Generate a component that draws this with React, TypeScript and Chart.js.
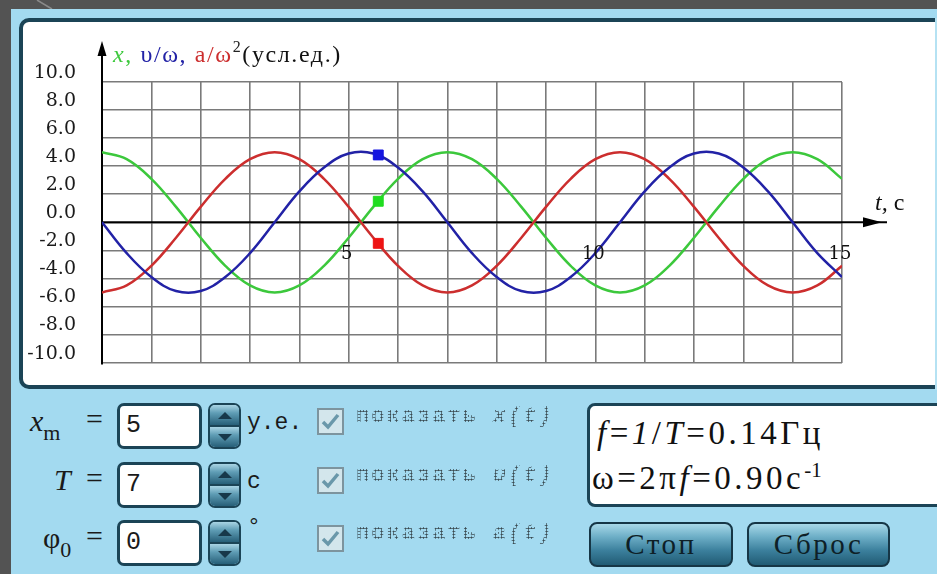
import { useEffect, useRef } from "react";
import { Chart, registerables } from "chart.js";

Chart.register(...registerables);

// Sample times, s
const timeValues = [
  0, 0.5, 1, 1.5, 2, 2.5, 3, 3.5, 4, 4.5, 5, 5.5, 6, 6.5, 7, 7.5,
  8, 8.5, 9, 9.5, 10, 10.5, 11, 11.5, 12, 12.5, 13, 13.5, 14, 14.5, 15,
];

// Displacement x(t), arbitrary units
const xValues = [
  5, 4.5, 3.1, 1.1, -1.1, -3.1, -4.5, -5, -4.5, -3.1, -1.1, 1.1, 3.1, 4.5, 5, 4.5,
  3.1, 1.1, -1.1, -3.1, -4.5, -5, -4.5, -3.1, -1.1, 1.1, 3.1, 4.5, 5, 4.5, 3.1,
];

// Velocity divided by omega
const vValues = [
  0, -2.2, -3.9, -4.9, -4.9, -3.9, -2.2, 0, 2.2, 3.9, 4.9, 4.9, 3.9, 2.2, 0, -2.2,
  -3.9, -4.9, -4.9, -3.9, -2.2, 0, 2.2, 3.9, 4.9, 4.9, 3.9, 2.2, 0, -2.2, -3.9,
];

// Acceleration divided by omega squared
const aValues = [
  -5, -4.5, -3.1, -1.1, 1.1, 3.1, 4.5, 5, 4.5, 3.1, 1.1, -1.1, -3.1, -4.5, -5, -4.5,
  -3.1, -1.1, 1.1, 3.1, 4.5, 5, 4.5, 3.1, 1.1, -1.1, -3.1, -4.5, -5, -4.5, -3.1,
];

// Current moment of the animation
const currentTime = 5.6;
const currentX = 1.5;
const currentV = 4.8;
const currentA = -1.5;

const xTickLabels = [5, 10, 15];

const GREEN = "#3cc83c";
const BLUE = "#2222a6";
const RED = "#cc2e2e";

const series = (vals: number[]) => timeValues.map((t, i) => ({ x: t, y: vals[i] }));

const decorPlugin = {
  id: "decor",
  beforeDatasetsDraw(chart: any) {
    const { ctx, chartArea: a, scales } = chart;
    const y0 = scales.y.getPixelForValue(0);
    ctx.save();
    ctx.strokeStyle = "#000";
    ctx.fillStyle = "#000";
    ctx.lineWidth = 2;
    // time axis with arrow
    ctx.beginPath();
    ctx.moveTo(a.left, y0);
    ctx.lineTo(a.right + 45, y0);
    ctx.stroke();
    ctx.beginPath();
    ctx.moveTo(a.right + 40, y0);
    ctx.lineTo(a.right + 21, y0 - 5);
    ctx.lineTo(a.right + 21, y0 + 5);
    ctx.closePath();
    ctx.fill();
    // value axis with arrow
    ctx.beginPath();
    ctx.moveTo(a.left, a.bottom + 2);
    ctx.lineTo(a.left, a.top - 38);
    ctx.stroke();
    ctx.beginPath();
    ctx.moveTo(a.left, a.top - 41);
    ctx.lineTo(a.left - 4.5, a.top - 26);
    ctx.lineTo(a.left + 4.5, a.top - 26);
    ctx.closePath();
    ctx.fill();
    ctx.restore();
  },
  afterDraw(chart: any) {
    const { ctx, chartArea: a, scales } = chart;
    const y0 = scales.y.getPixelForValue(0);
    ctx.save();
    ctx.fillStyle = "#111";
    ctx.textBaseline = "middle";
    ctx.textAlign = "center";
    ctx.font = "18px 'DejaVu Serif'";
    xTickLabels.forEach((v) => {
      ctx.fillText(String(v), scales.x.getPixelForValue(v) - 2, y0 + 32);
    });

    // axis name for time
    ctx.textAlign = "left";
    ctx.textBaseline = "alphabetic";
    ctx.font = "italic 24px 'Liberation Serif'";
    ctx.fillText("t,", a.right + 33, y0 - 12);
    const tw = ctx.measureText("t,").width;
    ctx.font = "24px 'Liberation Serif'";
    ctx.fillText(" c", a.right + 33 + tw, y0 - 12);

    // axis name for values, in colours of the curves
    ctx.letterSpacing = "1.6px";
    const parts = [
      { text: "x", color: GREEN, font: "italic 24px 'Liberation Serif'", dy: 0 },
      { text: ", ", color: GREEN, font: "24px 'Liberation Serif'", dy: 0 },
      { text: "υ/ω", color: BLUE, font: "24px 'Liberation Serif'", dy: 0 },
      { text: ", ", color: BLUE, font: "24px 'Liberation Serif'", dy: 0 },
      { text: "a/ω", color: RED, font: "24px 'Liberation Serif'", dy: 0 },
      { text: "2", color: "#222", font: "16px 'Liberation Serif'", dy: -10 },
      { text: "(усл.ед.)", color: "#111", font: "24px 'Liberation Serif'", dy: 0 },
    ];
    let px = a.left + 11;
    const base = a.top - 20;
    parts.forEach((p) => {
      ctx.font = p.font;
      ctx.fillStyle = p.color;
      ctx.fillText(p.text, px, base + p.dy);
      px += ctx.measureText(p.text).width;
    });
    ctx.restore();
  },
};

const boxBorder = "#1b4456";

function Spinner({ top }: { top: number }) {
  const half = {
    flex: 1,
    background: "linear-gradient(#a9d4e4 0%, #5f9db5 40%, #275f78 100%)",
    display: "flex",
    alignItems: "center",
    justifyContent: "center",
  } as const;
  return (
    <div
      style={{
        position: "absolute",
        left: 208,
        top,
        width: 33,
        height: 46,
        boxSizing: "border-box",
        border: `2px solid ${boxBorder}`,
        borderRadius: 7,
        overflow: "hidden",
        display: "flex",
        flexDirection: "column",
      }}
    >
      <div style={{ ...half, borderBottom: `2px solid ${boxBorder}` }}>
        <div style={{ width: 0, height: 0, borderLeft: "7px solid transparent", borderRight: "7px solid transparent", borderBottom: "7px solid #17384a" }} />
      </div>
      <div style={half}>
        <div style={{ width: 0, height: 0, borderLeft: "7px solid transparent", borderRight: "7px solid transparent", borderTop: "7px solid #17384a" }} />
      </div>
    </div>
  );
}

function Field({ top, value }: { top: number; value: string }) {
  return (
    <div
      style={{
        position: "absolute",
        left: 117,
        top,
        width: 85,
        height: 46,
        boxSizing: "border-box",
        border: `3px solid ${boxBorder}`,
        borderRadius: 7,
        background: "#fff",
        font: "25px 'Liberation Mono'",
        color: "#1a1a1a",
        lineHeight: "40px",
        paddingLeft: 6,
      }}
    >
      {value}
    </div>
  );
}

function CheckRow({ top, label }: { top: number; label: string }) {
  return (
    <>
      <div
        style={{
          position: "absolute",
          left: 317,
          top,
          width: 27,
          height: 27,
          boxSizing: "border-box",
          border: "2px solid #7d949e",
          background: "#d3e6ec",
        }}
      >
        <svg width="23" height="23" style={{ display: "block" }}>
          <path d="M4 12 L9 17 L19 5" stroke="#6a98aa" strokeWidth="3.5" fill="none" />
        </svg>
      </div>
      <div
        style={{
          position: "absolute",
          left: 356,
          top: top - 4,
          height: 34,
          lineHeight: "34px",
          font: "bold 22px 'Liberation Mono'",
          letterSpacing: 2,
          whiteSpace: "nowrap",
          backgroundImage: "radial-gradient(circle, #3a4b52 0.9px, transparent 1.3px)",
          backgroundSize: "3px 3px",
          WebkitBackgroundClip: "text",
          backgroundClip: "text",
          color: "transparent",
        }}
      >
        показать <i>{label}</i>
      </div>
    </>
  );
}

function Button({ left, width, text }: { left: number; width: number; text: string }) {
  return (
    <div
      style={{
        position: "absolute",
        left,
        top: 522,
        width,
        height: 45,
        boxSizing: "border-box",
        border: "2px solid #163646",
        borderRadius: 8,
        background: "linear-gradient(#a8d8e8 0%, #6fb0c8 30%, #3b7f9c 65%, #215b74 100%)",
        textAlign: "center",
        font: "29px 'Liberation Serif'",
        letterSpacing: 2.5,
        lineHeight: "40px",
        color: "#0e1f27",
      }}
    >
      {text}
    </div>
  );
}

export default function App() {
  const canvasRef = useRef<HTMLCanvasElement>(null);

  useEffect(() => {
    const chart = new Chart(canvasRef.current!, {
      type: "line",
      data: {
        datasets: [
          {
            data: [{ x: currentTime, y: currentV }],
            pointStyle: "rect",
            pointRadius: 7,
            backgroundColor: "#1515e0",
            borderColor: "#1515e0",
            showLine: false,
          },
          {
            data: [{ x: currentTime, y: currentX }],
            pointStyle: "rect",
            pointRadius: 7,
            backgroundColor: "#20dd20",
            borderColor: "#20dd20",
            showLine: false,
          },
          {
            data: [{ x: currentTime, y: currentA }],
            pointStyle: "rect",
            pointRadius: 7,
            backgroundColor: "#ee1414",
            borderColor: "#ee1414",
            showLine: false,
          },
          {
            data: series(vValues),
            borderColor: BLUE,
            borderWidth: 2.5,
            pointRadius: 0,
            tension: 0.4,
          },
          {
            data: series(aValues),
            borderColor: RED,
            borderWidth: 2.5,
            pointRadius: 0,
            tension: 0.4,
          },
          {
            data: series(xValues),
            borderColor: GREEN,
            borderWidth: 2.5,
            pointRadius: 0,
            tension: 0.4,
          },
        ],
      },
      options: {
        animation: false,
        responsive: false,
        maintainAspectRatio: false,
        events: [],
        layout: { padding: { left: 0, top: 58, right: 80, bottom: 9 } },
        plugins: { legend: { display: false }, tooltip: { enabled: false } },
        scales: {
          x: {
            type: "linear",
            min: 0,
            max: 15,
            ticks: { stepSize: 1, display: false },
            grid: { color: "#7a7a7a", lineWidth: 1.6, drawTicks: false },
            border: { display: false },
            afterFit: (s: any) => {
              s.height = 0;
            },
          },
          y: {
            min: -10,
            max: 10,
            ticks: {
              stepSize: 2,
              padding: 26,
              labelOffset: -9,
              color: "#1a1a1a",
              font: { family: "'DejaVu Serif'", size: 19 },
              callback: (v: any) => Number(v).toFixed(1),
            },
            grid: { color: "#7a7a7a", lineWidth: 1.6, drawTicks: false },
            border: { display: false },
            afterFit: (s: any) => {
              s.width = 80;
            },
          },
        },
      },
      plugins: [decorPlugin],
    } as any);
    return () => chart.destroy();
  }, []);

  const labelFont = "'Liberation Serif'";

  return (
    <div
      style={{
        position: "absolute",
        left: 0,
        top: 0,
        width: 937,
        height: 574,
        overflow: "hidden",
        background: "#535353",
      }}
    >
      <svg width="937" height="574" style={{ position: "absolute", left: 0, top: 0 }}>
        <line x1="37" y1="0" x2="52" y2="9" stroke="#8a8a8a" strokeWidth="1.5" />
      </svg>
      <div style={{ position: "absolute", left: 11, top: 9, right: 0, bottom: 0, background: "#a3daf0" }} />
      <div
        style={{
          position: "absolute",
          left: 19,
          top: 18,
          width: 930,
          height: 371,
          boxSizing: "border-box",
          border: `4px solid ${boxBorder}`,
          borderRadius: 10,
          background: "#fff",
        }}
      />
      <div style={{ position: "absolute", left: 935, top: 18, width: 2, height: 372, background: "#b5e2f3" }} />
      <canvas
        ref={canvasRef}
        width={900}
        height={376}
        style={{ position: "absolute", left: 22, top: 24, width: 900, height: 376 }}
      />

      {/* parameter labels */}
      <div style={{ position: "absolute", left: 30, top: 404, font: `italic 30px ${labelFont}`, color: "#1a1a1a" }}>
        x<span style={{ fontStyle: "normal", fontSize: 22, position: "relative", top: 9 }}>m</span>
      </div>
      <div style={{ position: "absolute", left: 86, top: 402, font: `30px ${labelFont}`, color: "#1a1a1a" }}>=</div>
      <div style={{ position: "absolute", left: 54, top: 463, font: `italic 30px ${labelFont}`, color: "#1a1a1a" }}>T</div>
      <div style={{ position: "absolute", left: 86, top: 461, font: `30px ${labelFont}`, color: "#1a1a1a" }}>=</div>
      <div style={{ position: "absolute", left: 43, top: 521, font: `30px ${labelFont}`, color: "#1a1a1a" }}>
        φ<span style={{ fontSize: 22, position: "relative", top: 9 }}>0</span>
      </div>
      <div style={{ position: "absolute", left: 86, top: 519, font: `30px ${labelFont}`, color: "#1a1a1a" }}>=</div>

      <Field top={403} value="5" />
      <Field top={462} value="7" />
      <Field top={520} value="0" />
      <Spinner top={403} />
      <Spinner top={462} />
      <Spinner top={520} />

      <div style={{ position: "absolute", left: 247, top: 410, font: "23px 'Liberation Mono'", color: "#1a1a1a" }}>у.е.</div>
      <div style={{ position: "absolute", left: 247, top: 469, font: "23px 'Liberation Mono'", color: "#1a1a1a" }}>с</div>
      <div style={{ position: "absolute", left: 247, top: 515, font: "23px 'Liberation Mono'", color: "#1a1a1a" }}>°</div>

      <CheckRow top={408} label="x(t)" />
      <CheckRow top={467} label="υ(t)" />
      <CheckRow top={525} label="a(t)" />

      {/* computed frequency */}
      <div
        style={{
          position: "absolute",
          left: 587,
          top: 403,
          width: 360,
          height: 104,
          boxSizing: "border-box",
          border: `3px solid ${boxBorder}`,
          borderRadius: 8,
          background: "#fff",
          font: `33px ${labelFont}`,
          color: "#111",
          paddingLeft: 7,
          letterSpacing: 3.5,
          whiteSpace: "nowrap",
        }}
      >
        <div style={{ position: "absolute", left: 7, top: 10, lineHeight: "34px" }}>
          <i>f</i>=<i>1</i>/<i>T</i>=0.14Гц
        </div>
        <div style={{ position: "absolute", left: 2, top: 55, lineHeight: "34px" }}>
          ω=2π<i>f</i>=0.90с<sup style={{ fontSize: 21, verticalAlign: "12px", lineHeight: 0, letterSpacing: 0 }}>-1</sup>
        </div>
      </div>

      <Button left={589} width={144} text="Стоп" />
      <Button left={747} width={143} text="Сброс" />
    </div>
  );
}
